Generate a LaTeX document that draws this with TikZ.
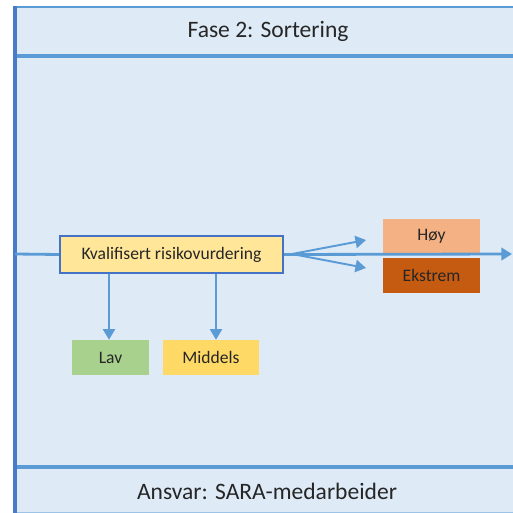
\documentclass[tikz,border=0pt]{standalone}
\usepackage{fontspec}
\setmainfont{Carlito}
\usetikzlibrary{arrows.meta}

\definecolor{panelfill}{HTML}{DEEBF7}
\definecolor{lineblue}{HTML}{5B9BD5}
\definecolor{boxblue}{HTML}{4472C4}
\definecolor{kvalfill}{HTML}{FFE699}
\definecolor{hoyfill}{HTML}{F4B183}
\definecolor{ekstremfill}{HTML}{C55A11}
\definecolor{lavfill}{HTML}{A9D18E}
\definecolor{middelsfill}{HTML}{FFD966}
\definecolor{tekst}{HTML}{262626}

\tikzset{
  level/.style={inner sep=0pt, minimum height=0.7cm, text=tekst, font=\fontsize{10}{12}\selectfont},
  pil/.style={-{Triangle[length=6pt,width=7pt]}, lineblue}
}

\begin{document}
\begin{tikzpicture}[x=0.02cm, y=-0.02cm]
  \useasboundingbox (0,0) rectangle (513,513);
  \clip (0,0) rectangle (513,513);

  % frame
  \fill[panelfill] (15,7) rectangle (520,520);
  \draw[lineblue, line width=1.6pt] (15,7) -- (520,7);
  \draw[lineblue, line width=2.2pt] (15,56) -- (520,56);
  \draw[lineblue, line width=1.8pt] (15,467) -- (520,467);
  \draw[lineblue!60, line width=0.8pt] (15,512.5) -- (520,512.5);
  \draw[boxblue!80!lineblue, line width=2.4pt] (15,6) -- (15,513);

  \node[text=tekst] (fase) at (268,31) {\fontsize{13.4}{16}\selectfont Fase 2: Sortering};
  \node[text=tekst] (ansvar) at (267,491) {\fontsize{13.4}{16}\selectfont Ansvar: SARA-medarbeider};
  \coordinate (venstre) at (15,254);
  \coordinate (hoyre) at (512,254);

  \node[level, draw=boxblue, line width=1.2pt, fill=kvalfill, minimum width=4.46cm,
        minimum height=0.74cm] (kval) at (171.5,254.5) {Kvalifisert risikovurdering};
  \node[level, fill=hoyfill, minimum width=1.94cm, minimum height=0.68cm] (hoy) at (431.5,236) {Høy};
  \node[level, fill=ekstremfill, minimum width=1.94cm] (ekstrem) at (431.5,275.5) {Ekstrem};
  \node[level, fill=lavfill, minimum width=1.54cm] (lav) at (110.5,357.5) {Lav};
  \node[level, fill=middelsfill, minimum width=1.92cm] (middels) at (211,357.5) {Middels};

  \coordinate (split) at (292,254);
  \coordinate (tilhoy) at (366,240);
  \coordinate (tilekstrem) at (366,268);

  \draw[lineblue, line width=1.6pt] (venstre) -- (kval.west);
  \draw[pil, line width=1.6pt] (kval.east) -- (hoyre);
  \draw[pil, line width=1.1pt] (split) -- (tilhoy);
  \draw[pil, line width=1.1pt] (split) -- (tilekstrem);
  \draw[pil, line width=0.6pt] (kval.south -| 109,0) -- (lav.north -| 109,0);
  \draw[pil, line width=0.6pt] (kval.south -| 216,0) -- (middels.north -| 216,0);
\end{tikzpicture}
\end{document}
